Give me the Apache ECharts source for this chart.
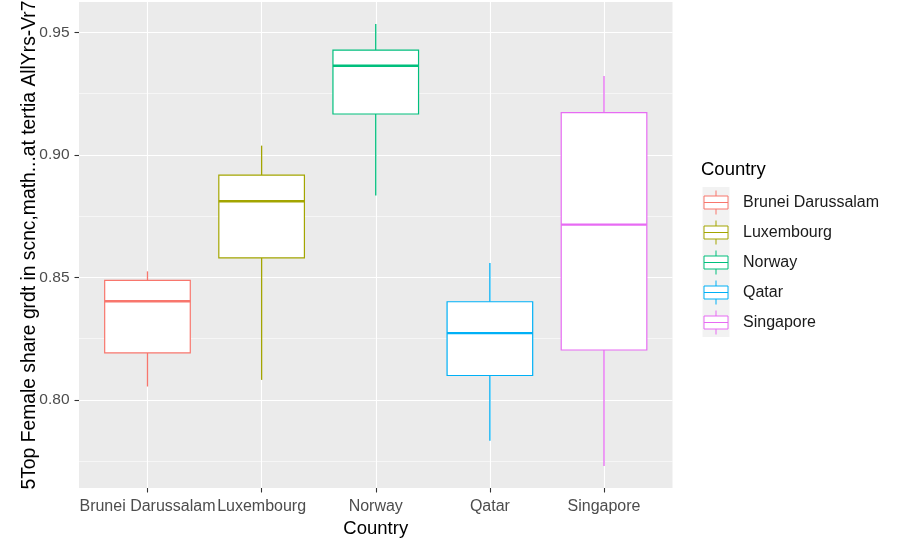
<!DOCTYPE html>
<html>
<head>
<meta charset="utf-8">
<script src="https://cdn.jsdelivr.net/npm/echarts@6/dist/echarts.min.js"></script>
<style>html,body{margin:0;padding:0;background:#fff;}#c{width:897px;height:539px;}</style>
</head>
<body>
<div id="c"></div>
<script>
const countries = ['Brunei Darussalam', 'Luxembourg', 'Norway', 'Qatar', 'Singapore'];
const colors = ['#F8766D', '#A3A500', '#00BF7D', '#00B0F6', '#E76BF3'];
const mins    = [0.8055, 0.8082, 0.8834, 0.7834, 0.7731];
const q1s     = [0.8192, 0.8580, 0.9167, 0.8100, 0.8204];
const medians = [0.8403, 0.8811, 0.9364, 0.8273, 0.8716];
const q3s     = [0.8488, 0.8918, 0.9428, 0.8401, 0.9173];
const maxs    = [0.8525, 0.9038, 0.9534, 0.8559, 0.9322];
const yMajor = [0.80, 0.85, 0.90, 0.95];
const yMinor = [0.775, 0.825, 0.875, 0.925];
const xMajor = [1, 2, 3, 4, 5];

const lo = Math.min(...mins), hi = Math.max(...maxs);
const pad = (hi - lo) * 0.05;
const yMin = lo - pad, yMax = hi + pad;

// panel geometry
const panelLeft = 79, panelRight = 672.5, panelTop = 2, panelBottom = 488;
const unit = (panelRight - panelLeft) / (countries.length + 0.2);
const font = 'Liberation Sans, Arial, Helvetica, sans-serif';

const boxPath = 'path://M0,5.5 L24,5.5 L24,18.5 L0,18.5 Z M0,12 L24,12 M12,0 L12,5.5 M12,18.5 L12,24';

const series = countries.map((name, i) => ({
  type: 'custom',
  name: name,
  xAxisIndex: 1,
  yAxisIndex: 2,
  color: colors[i],
  encode: { x: 0, y: [1, 2, 3, 4, 5] },
  data: [[i, mins[i], q1s[i], medians[i], q3s[i], maxs[i]]],
  renderItem: function (params, api) {
    const ci = api.value(0);
    const pMin = api.coord([ci, api.value(1)]);
    const pQ1 = api.coord([ci, api.value(2)]);
    const pMed = api.coord([ci, api.value(3)]);
    const pQ3 = api.coord([ci, api.value(4)]);
    const pMax = api.coord([ci, api.value(5)]);
    const bw = api.size([1, 0])[0] * 0.75;
    const x = pMed[0];
    const c = api.visual('color');
    return {
      type: 'group',
      children: [
        { type: 'line', shape: { x1: x, y1: pQ3[1], x2: x, y2: pMax[1] }, style: { stroke: c, lineWidth: 1.3 } },
        { type: 'line', shape: { x1: x, y1: pQ1[1], x2: x, y2: pMin[1] }, style: { stroke: c, lineWidth: 1.3 } },
        { type: 'rect', shape: { x: x - bw / 2, y: pQ3[1], width: bw, height: pQ1[1] - pQ3[1] }, style: { fill: '#fff', stroke: c, lineWidth: 1.2 } },
        { type: 'line', shape: { x1: x - bw / 2, y1: pMed[1], x2: x + bw / 2, y2: pMed[1] }, style: { stroke: c, lineWidth: 2.3 } }
      ]
    };
  }
}));

const option = {
  animation: false,
  textStyle: { fontFamily: font },
  title: {
    text: 'Country', left: 701, top: 160, padding: 0,
    textStyle: { fontSize: 18.5, fontWeight: 'normal', color: '#000', fontFamily: font }
  },
  legend: [
    {
      orient: 'vertical', left: 702.5, top: 187, padding: 0,
      itemWidth: 27, itemHeight: 30, itemGap: 0, selectedMode: false,
      data: countries.map(n => ({ name: n, icon: 'rect', itemStyle: { color: '#F2F2F2', borderWidth: 0 } })),
      formatter: () => '',
      textStyle: { color: 'rgba(0,0,0,0)', fontSize: 10 }
    },
    {
      orient: 'vertical', left: 703.5, top: 190, padding: 0,
      itemWidth: 24, itemHeight: 24, itemGap: 5, selectedMode: false,
      data: countries.map((n, i) => ({ name: n, icon: boxPath, itemStyle: { color: '#fff', borderColor: colors[i], borderWidth: 1 } })),
      textStyle: { color: '#1a1a1a', fontSize: 16, fontFamily: font, padding: [0, 0, 0, 10] }
    }
  ],
  grid: [
    { left: panelLeft, width: panelRight - panelLeft, top: panelTop, height: panelBottom - panelTop,
      show: true, backgroundColor: '#EBEBEB', borderWidth: 0, containLabel: false, outerBoundsMode: 'none' },
    { left: panelLeft + 0.1 * unit, width: unit * countries.length, top: panelTop, height: panelBottom - panelTop,
      show: false, containLabel: false, outerBoundsMode: 'none' }
  ],
  xAxis: [
    {
      type: 'value', gridIndex: 0, min: 0.4, max: countries.length + 0.6,
      axisLine: { show: false }, axisLabel: { show: false },
      axisTick: { show: false, customValues: xMajor },
      splitLine: { show: true, lineStyle: { color: '#fff', width: 1.1 } }
    },
    {
      type: 'category', gridIndex: 1, data: countries, boundaryGap: true,
      axisLine: { show: false },
      axisTick: { show: true, alignWithLabel: true, length: 4.5, lineStyle: { color: '#333', width: 1.1 } },
      axisLabel: { interval: 0, color: '#4D4D4D', fontSize: 16, margin: 10.5, fontFamily: font },
      splitLine: { show: false },
      name: 'Country', nameLocation: 'middle', nameGap: 31,
      nameTextStyle: { fontSize: 18.5, color: '#000', fontFamily: font }
    }
  ],
  yAxis: [
    {
      type: 'value', gridIndex: 0, min: yMin, max: yMax,
      axisLine: { show: false },
      axisTick: { show: true, length: 4.5, customValues: yMajor, lineStyle: { color: '#333', width: 1.1 } },
      axisLabel: { customValues: yMajor, color: '#4D4D4D', fontSize: 15.5, margin: 9.5, fontFamily: font,
        formatter: v => v.toFixed(2) },
      splitLine: { show: true, lineStyle: { color: '#fff', width: 1.1 } },
      name: '5Top Female share grdt in scnc,math...at tertia AllYrs-Vr7',
      nameLocation: 'middle', nameRotate: 90, nameGap: 40, nameMoveOverlap: false,
      nameTextStyle: { fontSize: 19.3, color: '#000', fontFamily: font }
    },
    {
      type: 'value', gridIndex: 0, min: yMin, max: yMax,
      axisLine: { show: false }, axisLabel: { show: false },
      axisTick: { show: false, customValues: yMinor },
      splitLine: { show: true, lineStyle: { color: '#fff', width: 0.55 } }
    },
    {
      type: 'value', gridIndex: 1, min: yMin, max: yMax,
      axisLine: { show: false }, axisLabel: { show: false }, axisTick: { show: false },
      splitLine: { show: false }
    }
  ],
  series: series
};

const chart = echarts.init(document.getElementById('c'), null, { renderer: 'canvas' });
chart.setOption(option);
</script>
</body>
</html>
